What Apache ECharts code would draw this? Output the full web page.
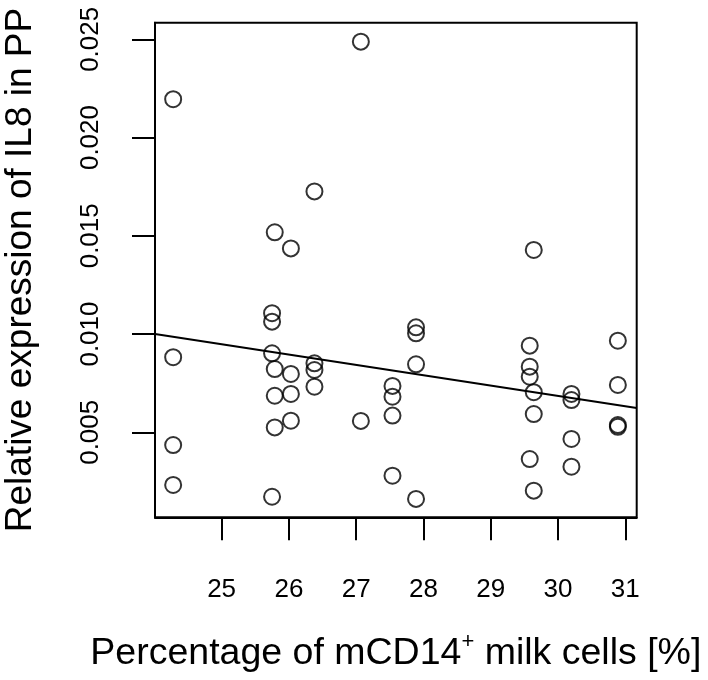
<!DOCTYPE html>
<html>
<head>
<meta charset="utf-8">
<script src="https://cdn.jsdelivr.net/npm/echarts@6/dist/echarts.min.js"></script>
<style>html,body{margin:0;padding:0;background:#fff;}#c{width:708px;height:680px;}</style>
</head>
<body>
<div id="c"></div>
<script>
// Percentage of mCD14+ milk cells (x) and relative IL8 expression (y), one pair per point
const xValues = [
  24.28, 24.28, 24.28, 24.28,
  25.75, 25.75, 25.75, 25.75,
  25.79, 25.79, 25.79, 25.79,
  26.03, 26.03, 26.03, 26.03,
  26.38, 26.38, 26.38, 26.38,
  27.07, 27.07,
  27.54, 27.54, 27.54, 27.54,
  27.89, 27.89, 27.89, 27.89,
  29.58, 29.58, 29.58, 29.58,
  29.64, 29.64, 29.64, 29.64,
  30.20, 30.20, 30.20, 30.20,
  30.89, 30.89, 30.89, 30.89
];
const yValues = [
  0.02195, 0.00882, 0.00435, 0.00232,
  0.01106, 0.01063, 0.00902, 0.00172,
  0.01518, 0.00822, 0.00686, 0.00525,
  0.01436, 0.00797, 0.00695, 0.00559,
  0.01726, 0.00851, 0.00817, 0.00732,
  0.02488, 0.00558,
  0.00736, 0.00681, 0.00585, 0.00279,
  0.01034, 0.01004, 0.00846, 0.00161,
  0.00941, 0.00834, 0.00783, 0.00364,
  0.01428, 0.00704, 0.00593, 0.00203,
  0.00695, 0.00664, 0.00466, 0.00325,
  0.00966, 0.00741, 0.00537, 0.00528
];
// Fitted regression line: y = fitIntercept + fitSlope * x
const fitIntercept = 0.022605;
const fitSlope = -0.000525;
// Axis ranges and tick labels
const xRange = [24.01, 31.17];
const yRange = [0.000674, 0.025845];
const xTicks = [25, 26, 27, 28, 29, 30, 31];
const yTicks = [0.005, 0.010, 0.015, 0.020, 0.025];

const points = xValues.map((x, i) => [x, yValues[i]]);
const fitLine = xRange.map(x => [x, fitIntercept + fitSlope * x]);

const FONT = '"Liberation Sans", Arial, Helvetica, sans-serif';
const chart = echarts.init(document.getElementById('c'), null, {renderer: 'canvas'});
chart.setOption({
  animation: false,
  backgroundColor: '#fff',
  grid: {left: 155, right: 71.3, top: 22.7, bottom: 162.7, show: true, borderColor: '#000', borderWidth: 2,
         containLabel: false, outerBoundsMode: 'none'},
  xAxis: {
    type: 'value', min: xRange[0], max: xRange[1],
    splitLine: {show: false},
    axisLine: {show: true, onZero: false, lineStyle: {color: '#000', width: 2}},
    axisTick: {show: true, inside: false, length: 23, lineStyle: {color: '#000', width: 2}, customValues: xTicks},
    axisLabel: {show: true, margin: 60, color: '#000', fontSize: 26, fontFamily: FONT, customValues: xTicks, formatter: v => String(v)},
    name: 'Percentage of mCD14{sup|+} milk cells [%]',
    nameLocation: 'middle', nameGap: 114,
    nameTextStyle: {color: '#000', fontSize: 37.5, fontFamily: FONT,
      rich: {sup: {fontSize: 22, fontFamily: FONT, color: '#000', padding: [0, 0, 22, 0]}}}
  },
  yAxis: {
    type: 'value', min: yRange[0], max: yRange[1],
    splitLine: {show: false},
    axisLine: {show: true, onZero: false, lineStyle: {color: '#000', width: 2}},
    axisTick: {show: true, inside: false, length: 23, lineStyle: {color: '#000', width: 2}, customValues: yTicks},
    axisLabel: {show: true, rotate: 90, margin: 51, color: '#000', fontSize: 26, fontFamily: FONT, customValues: yTicks, formatter: v => v.toFixed(3)},
    name: 'Relative expression of IL8 in PP',
    nameLocation: 'middle', nameGap: 116, nameRotate: 90,
    nameTextStyle: {color: '#000', fontSize: 37, fontFamily: FONT}
  },
  series: [
    {
      type: 'scatter', data: points, symbol: 'circle', symbolSize: 16,
      itemStyle: {color: 'rgba(0,0,0,0)', borderColor: '#000', borderWidth: 2},
      emphasis: {disabled: true}, z: 3
    },
    {
      type: 'line', data: fitLine, symbol: 'none', showSymbol: false,
      lineStyle: {color: '#000', width: 2}, emphasis: {disabled: true}, z: 2
    }
  ]
});
</script>
</body>
</html>
